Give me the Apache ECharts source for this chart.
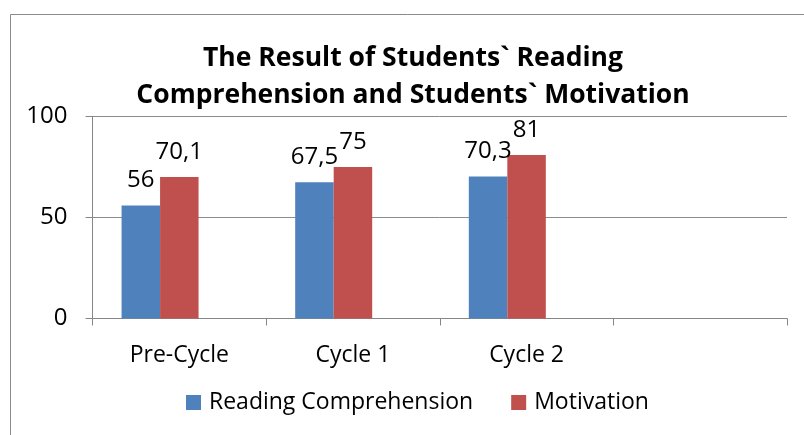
<!DOCTYPE html>
<html>
<head>
<meta charset="utf-8">
<script src="https://cdn.jsdelivr.net/npm/echarts@6/dist/echarts.min.js"></script>
<style>
html,body{margin:0;padding:0;background:#fff;}
#chart{width:804px;height:435px;}
</style>
</head>
<body>
<div id="chart"></div>
<script>
const categories = ['Pre-Cycle', 'Cycle 1', 'Cycle 2', ''];
const readingComprehension = [56, 67.5, 70.3, null];
const motivation = [70.1, 75, 81, null];
const emptySeries = [null, null, null, null];
const yTicks = { min: 0, max: 100, interval: 50 };
const titleText = 'The Result of Students` Reading\nComprehension and Students` Motivation';
const seriesNames = ['Reading Comprehension', 'Motivation'];

const FONT = 'Open Sans';
const fmt = p => p.value == null ? '' : String(p.value).replace('.', ',');
const chart = echarts.init(document.getElementById('chart'), null, {renderer: 'canvas'});
chart.setOption({
  animation: false,
  backgroundColor: '#fff',
  graphic: [{
    type: 'rect', z: -1,
    shape: {x: 10.5, y: 14.5, width: 1000, height: 1000},
    style: {fill: 'none', stroke: '#8a8a8a', lineWidth: 1}
  }],
  title: {
    text: titleText,
    left: 408,
    top: 35,
    textAlign: 'center',
    textStyle: {fontFamily: FONT, fontWeight: 'bold', fontSize: 26.5, lineHeight: 37, color: '#000'}
  },
  legend: {
    bottom: 16,
    left: 181,
    itemWidth: 15, itemHeight: 15, itemGap: 38,
    icon: 'rect',
    textStyle: {fontFamily: FONT, fontSize: 23, color: '#000', padding: [0, 0, 0, 3]},
    data: seriesNames
  },
  grid: {left: 92.5, right: 17, top: 116.5, bottom: 116.5},
  xAxis: {
    type: 'category',
    data: categories,
    axisLine: {lineStyle: {color: '#868686'}},
    axisTick: {show: true, length: 7, alignWithLabel: false, lineStyle: {color: '#868686'}},
    axisLabel: {fontFamily: FONT, fontSize: 23, color: '#000', margin: 25}
  },
  yAxis: {
    type: 'value',
    min: yTicks.min, max: yTicks.max, interval: yTicks.interval,
    axisLine: {show: true, lineStyle: {color: '#868686'}},
    axisTick: {show: true, length: 7, lineStyle: {color: '#868686'}},
    splitLine: {show: true, lineStyle: {color: '#8c8c8c'}},
    axisLabel: {fontFamily: FONT, fontSize: 24, color: '#000', margin: 25}
  },
  series: [
    {
      name: seriesNames[0], type: 'bar', data: readingComprehension,
      barWidth: 38.5, barGap: '0%',
      itemStyle: {color: '#4F81BD'},
      label: {show: true, position: 'top', distance: 13, formatter: fmt, fontFamily: FONT, fontSize: 24, color: '#000'}
    },
    {
      name: seriesNames[1], type: 'bar', data: motivation,
      barWidth: 38.5, barGap: '0%',
      itemStyle: {color: '#C0504D'},
      label: {show: true, position: 'top', distance: 13, formatter: fmt, fontFamily: FONT, fontSize: 24, color: '#000'}
    },
    {
      name: 'blank', type: 'bar', data: emptySeries,
      barWidth: 38.5, barGap: '0%',
      itemStyle: {color: '#9BBB59'}
    }
  ]
});
</script>
</body>
</html>
